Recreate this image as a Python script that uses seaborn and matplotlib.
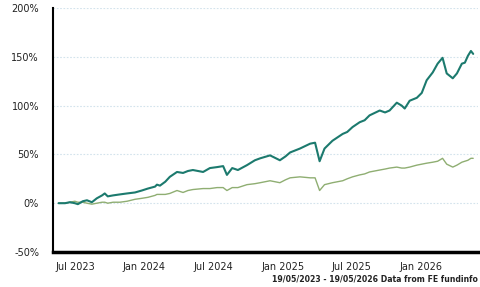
import numpy as np
import pandas as pd
import matplotlib
matplotlib.use("Agg")
import matplotlib.pyplot as plt
import matplotlib.dates as mdates
import seaborn as sns

# readings taken off the chart (cumulative % growth)
dates = [
    "2023-05-19", "2023-06-05", "2023-06-18", "2023-07-01", "2023-07-09", "2023-07-22",
    "2023-08-02", "2023-08-15", "2023-08-28", "2023-09-11", "2023-09-18", "2023-09-26",
    "2023-10-10", "2023-10-28", "2023-11-16", "2023-12-07", "2023-12-25", "2024-01-10",
    "2024-01-29", "2024-02-03", "2024-02-11", "2024-02-25", "2024-03-08", "2024-03-27",
    "2024-04-12", "2024-04-25", "2024-05-08", "2024-06-04", "2024-06-22", "2024-07-11",
    "2024-07-27", "2024-08-06", "2024-08-20", "2024-09-04", "2024-09-28", "2024-10-19",
    "2024-11-02", "2024-11-28", "2024-12-24", "2025-01-08", "2025-01-20", "2025-02-15",
    "2025-03-14", "2025-03-27", "2025-04-08", "2025-04-21", "2025-05-12", "2025-06-08",
    "2025-06-20", "2025-07-04", "2025-07-23", "2025-08-05", "2025-08-18", "2025-09-14",
    "2025-09-28", "2025-10-10", "2025-10-29", "2025-11-11", "2025-11-19", "2025-12-02",
    "2025-12-21", "2026-01-03", "2026-01-16", "2026-02-01", "2026-02-14", "2026-02-27",
    "2026-03-10", "2026-03-26", "2026-04-06", "2026-04-19", "2026-04-27", "2026-05-05",
    "2026-05-13", "2026-05-19",
]
fund = [
    0, 0, 1, 0, -1, 2,
    3, 1, 5, 8, 10, 7,
    8, 9, 10, 11, 13, 15,
    17, 19, 18, 22, 27, 32,
    31, 33, 34, 32, 36, 37,
    38, 29, 36, 34, 39, 44,
    46, 49, 44, 48, 52, 56,
    61, 62, 43, 56, 64, 71,
    73, 78, 83, 85, 90, 95,
    93, 95, 103, 100, 97, 105,
    108, 113, 126, 134, 143, 149,
    133, 128, 133, 143, 144, 151,
    156, 153,
]
benchmark = [
    0, 0, 1, 2, 1, 1,
    0, -1, 0, 1, 1, 0,
    1, 1, 2, 4, 5, 6,
    8, 9, 9, 9, 10, 13,
    11, 13, 14, 15, 15, 16,
    16, 13, 16, 16, 19, 20,
    21, 23, 21, 24, 26, 27,
    26, 26, 13, 19, 21, 23,
    25, 27, 29, 30, 32, 34,
    35, 36, 37, 36, 36, 37,
    39, 40, 41, 42, 43, 46,
    40, 37, 39, 42, 43, 44,
    46, 46,
]

yticks = [-50, 0, 50, 100, 150, 200]
xticks = ["2023-07-01", "2024-01-01", "2024-07-01", "2025-01-01", "2025-07-01", "2026-01-01"]

df = pd.DataFrame({"date": pd.to_datetime(dates), "fund": fund, "benchmark": benchmark})

sns.set_style("white")
plt.rcParams["font.family"] = ["DejaVu Sans"]

fig = plt.figure(figsize=(4.81, 2.87), dpi=100)
ax = fig.add_axes([0.110, 0.122, 0.884, 0.850])

for y in yticks[1:]:
    ax.axhline(y, color="#d3e3ec", lw=0.8, ls=(0, (1.5, 1.5)), zorder=0)

sns.lineplot(data=df, x="date", y="benchmark", ax=ax, color="#8fae72", lw=1.0)
sns.lineplot(data=df, x="date", y="fund", ax=ax, color="#1c7a6e", lw=1.5)

ax.set_xlim(pd.Timestamp("2023-05-04"), pd.Timestamp("2026-06-01"))
ax.set_ylim(-50, 200)
ax.set_yticks(yticks)
ax.set_yticklabels([f"{v}%" for v in yticks], fontsize=7, color="#222222")
ax.set_xticks(pd.to_datetime(xticks))
ax.xaxis.set_major_formatter(mdates.DateFormatter("%b %Y"))
ax.tick_params(axis="x", labelsize=7, labelcolor="#222222", length=0, pad=7)
ax.tick_params(axis="y", length=0, pad=10)
ax.set_xlabel("")
ax.set_ylabel("")

for side in ["top", "right"]:
    ax.spines[side].set_visible(False)
ax.spines["left"].set_color("black")
ax.spines["left"].set_linewidth(1.5)
ax.spines["bottom"].set_color("black")
ax.spines["bottom"].set_linewidth(2.5)

fig.text(0.994, 0.012, "19/05/2023 - 19/05/2026 Data from FE fundinfo",
         ha="right", va="bottom", fontsize=5.6, fontweight="bold", color="#222222")

fig.savefig("out.png", dpi=100)
